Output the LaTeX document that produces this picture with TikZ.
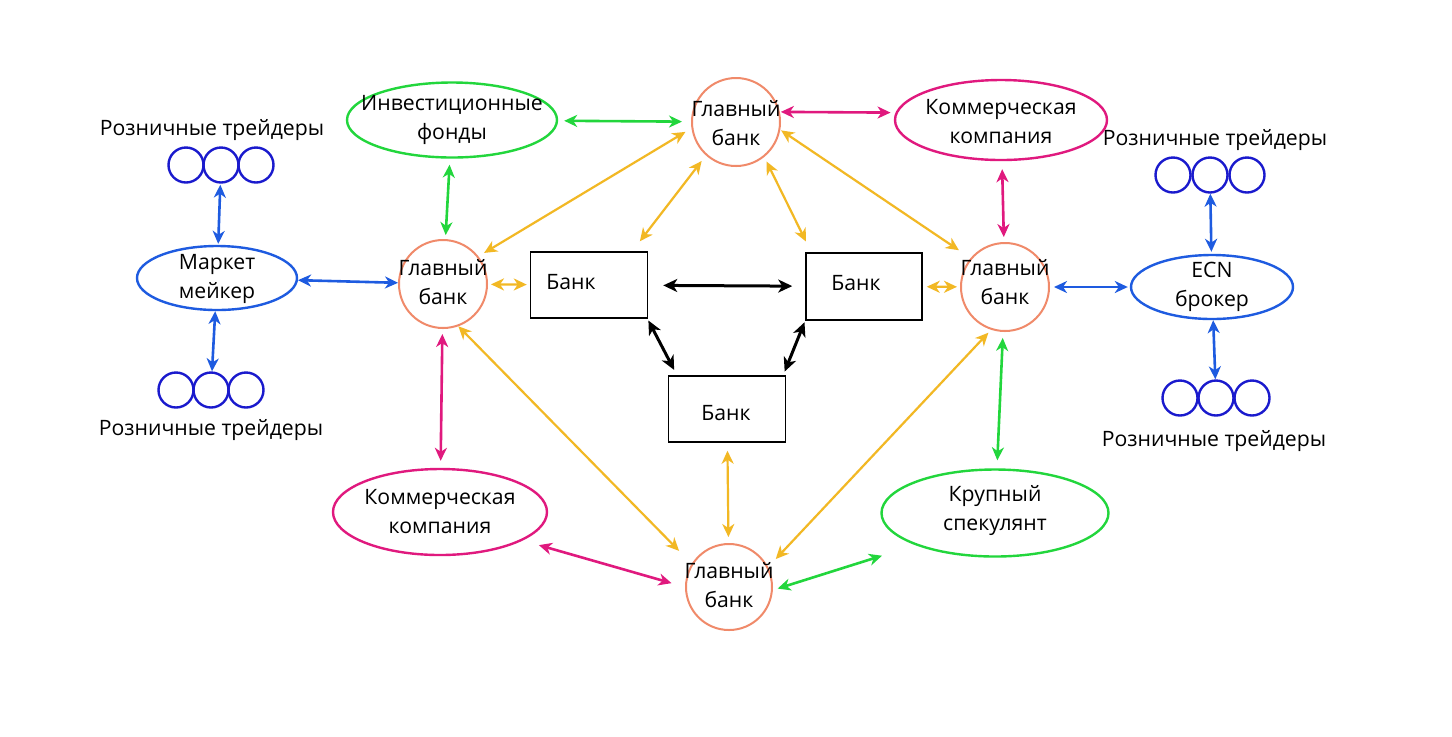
\documentclass[tikz,border=0pt]{standalone}
\usepackage{fontspec}
\setmainfont{Open Sans}
\usetikzlibrary{arrows.meta,shapes.geometric}
\definecolor{cblue}{HTML}{1E5BE0}
\definecolor{cdblue}{HTML}{1A1ACD}
\definecolor{cgreen}{HTML}{22D63C}
\definecolor{cpink}{HTML}{E0197E}
\definecolor{corange}{HTML}{F2B824}
\definecolor{csalmon}{HTML}{F08A6A}
\tikzset{
  txt/.style={inner sep=0pt, align=center, font=\fontsize{10.6}{14.5}\selectfont},
  tc/.style={circle, draw=cdblue, line width=1.2pt, minimum size=17.5pt, inner sep=0pt},
  bankc/.style={circle, draw=csalmon, line width=1pt, minimum size=44pt, inner sep=0pt},
  ell/.style={ellipse, line width=1.2pt, inner sep=0pt},
  bankr/.style={rectangle, draw=black, line width=0.75pt, inner sep=0pt},
  tip/.style={{Stealth[length=6.5pt,width=6pt,inset=2pt]}-{Stealth[length=6.5pt,width=6pt,inset=2pt]}},
  ab/.style={tip, draw=cblue, line width=1.3pt},
  ag/.style={tip, draw=cgreen, line width=1.3pt},
  ap/.style={tip, draw=cpink, line width=1.3pt},
  ao/.style={tip, draw=corange, line width=1.1pt},
  ak/.style={{Stealth[length=7pt,width=6.5pt,inset=2pt]}-{Stealth[length=7pt,width=6.5pt,inset=2pt]}, draw=black, line width=1.5pt},
}
\begin{document}
\begin{tikzpicture}[x=0.5pt,y=-0.5pt]
\useasboundingbox (0,0) rectangle (1452,736);
\fill[white] (0,0) rectangle (1452,736);

% left retail traders
\node[txt] (tlt) at (212,130) {Розничные трейдеры};
\node[tc] (tl1) at (186,165) {};
\node[tc] (tl2) at (221,165) {};
\node[tc] (tl3) at (256,165) {};
\node[txt] (blt) at (211,430) {Розничные трейдеры};
\node[tc] (bl1) at (176,390) {};
\node[tc] (bl2) at (211,390) {};
\node[tc] (bl3) at (246,390) {};
\node[ell, draw=cblue, minimum width=80pt, minimum height=32pt] (mm) at (217,278) {};
\node[txt] (mmt) at (217,279) {Маркет\\мейкер};

% right retail traders
\node[txt] (trt) at (1215,140) {Розничные трейдеры};
\node[tc] (tr1) at (1173,175) {};
\node[tc] (tr2) at (1210,175) {};
\node[tc] (tr3) at (1247,175) {};
\node[txt] (brt) at (1214,441) {Розничные трейдеры};
\node[tc] (br1) at (1180,398) {};
\node[tc] (br2) at (1216,398) {};
\node[tc] (br3) at (1252,398) {};
\node[ell, draw=cblue, minimum width=81pt, minimum height=32pt] (ecn) at (1212,287) {};
\node[txt] (ecnt) at (1212,287) {ECN\\брокер};

% outer ellipses
\node[ell, draw=cgreen, minimum width=105pt, minimum height=37.5pt] (fund) at (452,120) {};
\node[txt] (fundt) at (452,120) {Инвестиционные\\фонды};
\node[ell, draw=cpink, minimum width=106pt, minimum height=40pt] (kt) at (1001,120) {};
\node[txt] (ktt) at (1001,122) {Коммерческая\\компания};
\node[ell, draw=cpink, minimum width=107pt, minimum height=43pt] (kb) at (440,512) {};
\node[txt] (kbt) at (440,512) {Коммерческая\\компания};
\node[ell, draw=cgreen, minimum width=113.5pt, minimum height=43.5pt] (sp) at (995,513) {};
\node[txt] (spt) at (995,511) {Крупный\\спекулянт};

% main banks
\node[bankc] (lb) at (443,284) {};
\node[txt] (lbt) at (443,282) {Главный\\банк};
\node[bankc] (tb) at (736,122) {};
\node[txt] (tbt) at (736,123) {Главный\\банк};
\node[bankc] (rb) at (1005,287) {};
\node[txt] (rbt) at (1005,282) {Главный\\банк};
\node[bankc, minimum size=43pt] (bb) at (729,587) {};
\node[txt] (bbt) at (729,585) {Главный\\банк};

% banks
\node[bankr, minimum width=58.5pt, minimum height=33pt] (b1) at (589,285) {};
\node[txt] (b1t) at (571,282) {Банк};
\node[bankr, minimum width=58pt, minimum height=33.5pt] (b2) at (864,286.5) {};
\node[txt] (b2t) at (856,283) {Банк};
\node[bankr, minimum width=58.5pt, minimum height=33pt] (b3) at (727,409) {};
\node[txt] (b3t) at (726,413) {Банк};

% blue
\draw[ab, shorten <=0.5pt, shorten >=0.5pt] (tl2) -- (mm);
\draw[ab] (mm) -- (bl2);
\draw[ab] (mm) -- (lb);
\draw[ab, shorten <=2pt, shorten >=1pt] (rb) -- (ecn);
\draw[ab, shorten >=1pt] (tr2) -- (ecn);
\draw[ab] (ecn) -- (br2);

% green
\draw[ag, shorten <=3pt, shorten >=2pt] (fund) -- (lb);
\draw[ag, shorten <=3pt, shorten >=4.5pt] (fund) -- (tb);
\draw[ag, shorten <=3pt, shorten >=4pt] (rb) -- (sp);
\draw[ag, shorten <=2.5pt, shorten >=17.5pt] (bb.-4) -- (sp.202.4);

% pink
\draw[ap, shorten <=0.5pt, shorten >=2.5pt] (tb.13) -- (kt.176);
\draw[ap, shorten <=4pt, shorten >=2.5pt] (kt) -- (rb);
\draw[ap, shorten <=2.5pt, shorten >=3.5pt] (lb) -- (kb);
\draw[ap, shorten <=8.4pt, shorten >=7pt] (kb.-19) -- (bb.180);

% orange
\draw[ao, shorten <=1.5pt, shorten >=1.5pt] (lb) -- (b1);
\draw[ao, shorten <=2pt, shorten >=1.5pt] (b2) -- (rb);
\draw[ao, shorten <=4pt, shorten >=3pt] (b3) -- (bb);
\draw[ao, shorten <=3.5pt, shorten >=3.3pt] (tb.188) -- (lb.38);
\draw[ao, shorten <=3.5pt, shorten >=6.3pt] (tb.228) -- (b1.38);
\draw[ao, shorten <=2.5pt, shorten >=6pt] (tb.309) -- (b2.147.6);
\draw[ao, shorten <=0.5pt, shorten >=7pt] (tb.350) -- (rb.140.6);
\draw[ao, shorten >=9pt] (lb.290) -- (bb.148);
\draw[ao, shorten <=2pt, shorten >=5.5pt] (rb.252) -- (bb.27.5);

% black
\draw[ak, shorten <=7.5pt, shorten >=6.5pt] (b1) -- (b2);
\draw[ak, shorten <=1pt, shorten >=3pt] (b1.-30) -- (b3.146);
\draw[ak, shorten <=1pt, shorten >=2pt] (b2.210) -- (b3.31);
\end{tikzpicture}
\end{document}
